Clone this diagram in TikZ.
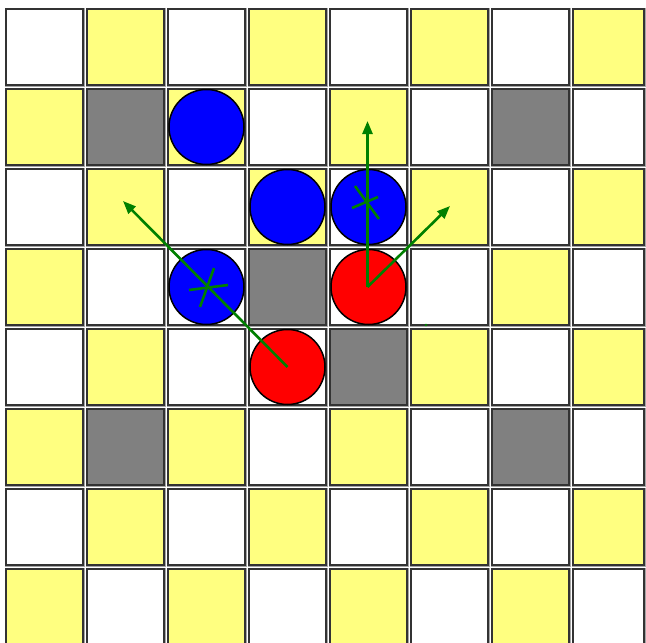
\documentclass[tikz,border=0pt]{standalone}
\usetikzlibrary{arrows.meta}
\definecolor{cellyellow}{HTML}{FFFF80}
\definecolor{cellgray}{HTML}{808080}
\definecolor{linegreen}{HTML}{008000}
\begin{document}
\begin{tikzpicture}[x=1pt,y=-1pt,
  cellhalo/.style={draw=black!35,line width=3pt},
  cell/.style={draw=black!80,line width=1.8pt},
  piece/.style={circle,draw=black,line width=1.5pt,minimum size=75pt,inner sep=0pt},
  gline/.style={draw=linegreen,line width=2.6pt},
  garrow/.style={gline,-{Triangle[length=13pt,width=10pt]}}]
\fill[white] (0,0) rectangle (646,643);
\useasboundingbox (0,0) rectangle (646,643);
\begin{scope}
\clip (0,0) rectangle (646,643);
\foreach \r in {0,...,7}{
  \foreach \c in {0,...,7}{
    \pgfmathtruncatemacro\p{mod(\r+\c,2)}
    \ifnum\p=1 \def\fc{cellyellow}\else\def\fc{white}\fi
    \ifnum\c=7 \def\w{71}\else\def\w{77}\fi
    \draw[cellhalo] (6+81*\c,9+80*\r) rectangle ++(\w,76);
    \draw[cell,fill=\fc] (6+81*\c,9+80*\r) rectangle ++(\w,76);
  }
}
\foreach \r/\c in {3/2,3/4,4/3}{
  \draw[cell,fill=white] (6+81*\c,9+80*\r) rectangle ++(77,76);
}
\foreach \r/\c in {1/1,1/6,3/3,4/4,5/1,5/6}{
  \draw[cell,fill=cellgray] (6+81*\c,9+80*\r) rectangle ++(77,76);
}
\end{scope}
% pieces
\node[piece,fill=blue] (b1) at (206.5,127) {};
\node[piece,fill=blue] (b2) at (287.5,207) {};
\node[piece,fill=blue] (b3) at (368.5,207) {};
\node[piece,fill=blue] (b4) at (206.5,287) {};
\node[piece,fill=red] (r1) at (368.5,287) {};
\node[piece,fill=red] (r2) at (287.5,367) {};
% arrow ends
\coordinate (t1) at (123,201);
\coordinate (t2) at (367.5,121);
\coordinate (t3) at (450,206);
\coordinate (o1) at (367.5,287);
\draw[garrow] (r2.center) -- (t1);
\draw[garrow] (o1) -- (t2);
\draw[garrow] (o1) -- (t3);
% stars
\draw[gline] (189,290) -- (228,285);
\draw[gline] (214,268) -- (200,307);
\draw[gline] (352,208) -- (378,197);
\draw[gline] (355,186) -- (379,219);
\fill[linegreen] (426,325) circle (1.3pt);
\end{tikzpicture}
\end{document}
